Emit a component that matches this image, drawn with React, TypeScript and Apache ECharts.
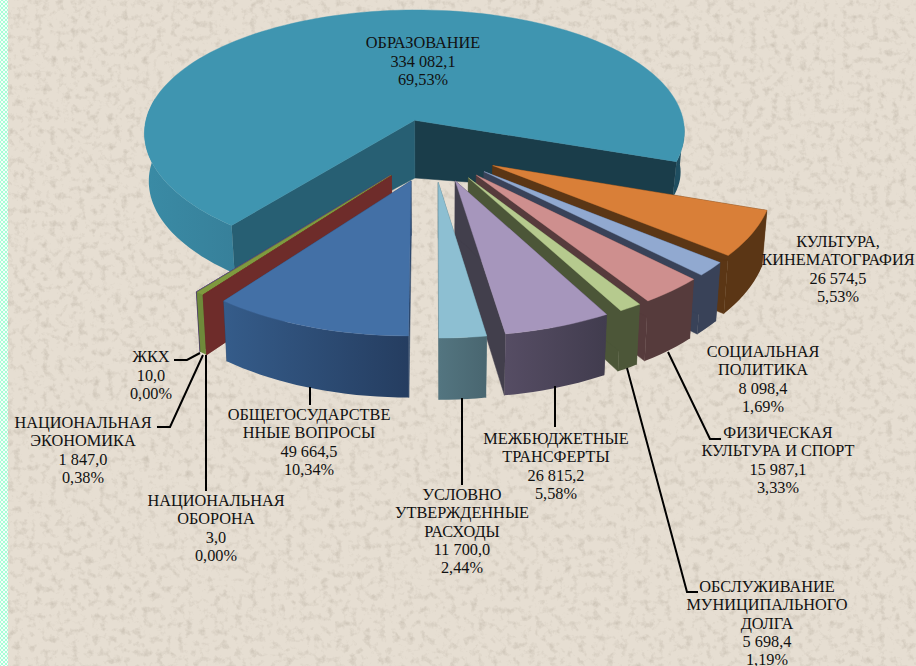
import React, { useEffect, useRef } from "react";
import * as echarts from "echarts";

// ---- data (clockwise from the 6 o'clock start angle) ----
const sliceNames = [
  "ОБЩЕГОСУДАРСТВЕ\nННЫЕ ВОПРОСЫ",
  "НАЦИОНАЛЬНАЯ\nОБОРОНА",
  "НАЦИОНАЛЬНАЯ\nЭКОНОМИКА",
  "ЖКХ",
  "ОБРАЗОВАНИЕ",
  "КУЛЬТУРА,\nКИНЕМАТОГРАФИЯ",
  "СОЦИАЛЬНАЯ\nПОЛИТИКА",
  "ФИЗИЧЕСКАЯ\nКУЛЬТУРА И СПОРТ",
  "ОБСЛУЖИВАНИЕ\nМУНИЦИПАЛЬНОГО\nДОЛГА",
  "МЕЖБЮДЖЕТНЫЕ\nТРАНСФЕРТЫ",
  "УСЛОВНО\nУТВЕРЖДЕННЫЕ\nРАСХОДЫ",
];
const sliceValues = [49664.5, 3.0, 1847.0, 10.0, 334082.1, 26574.5, 8098.4, 15987.1, 5698.4, 26815.2, 11700.0];

// ---- styles ----
const topColors = ["#4370A6", "#7A302C", "#7F9A3F", "#64508A", "#3F95B0", "#D97F38", "#91A9D0", "#CE8F8E", "#B6CA8E", "#A696BC", "#8DBFD2"];
const faceColors = ["#2A4569", "#6E2C2A", "#5F7530", "#4A3A68", "#275F73", "#5B3615", "#394258", "#563B3C", "#4C5638", "#423F4C", "#4F6E78"];
const wallStops = [
  ["#355C8A", "#253D60"],
  ["#6E2C2A", "#6E2C2A"],
  ["#6F8A3A", "#6F8A3A"],
  ["#4A3A68", "#4A3A68"],
  ["#3A8BA5", "#37809A"],
  ["#5B3615", "#5B3615"],
  ["#394258", "#394258"],
  ["#563B3C", "#563B3C"],
  ["#4C5638", "#4C5638"],
  ["#564D64", "#413C4E"],
  ["#537580", "#496670"],
];
const EDU = 4;
const EDU_RIGHT_FACE = "#1A3D4A";
const EDU_RIGHT_WALL = "#1F4E60";
const labelCenters = [
  [309, 442], [216, 528], [83, 450], [151, 375], [423, 61], [838, 269],
  [763, 379], [778, 460], [767, 623], [556, 466], [462, 531],
];
const leaders = [
  [[174, 360], [187, 360], [200, 353]],
  [[157, 427], [170, 427], [203, 355]],
  [[206, 355], [206, 491]],
  [[310, 387], [310, 405]],
  [[462, 398], [462, 485]],
  [[555, 386], [555, 427]],
  [[627, 368], [687, 592], [698, 592]],
  [[668, 352], [710, 439], [721, 439]],
];

// ---- projection of the tilted disc ----
const CX = 433, CY = 150, A = 275, B = 129.5, KX = 0.1, KY = 0.115, EXPLODE = 0.245;
const RAD = Math.PI / 180;
const total = sliceValues.reduce((s, v) => s + v, 0);
const project = (X: number, Y: number) => [
  CX + (A * X) / (1 - KX * Y),
  CY + (B * Y) / (1 - KY * Y),
];
const lower = (X: number, Y: number, idx: number) => {
  const p = project(X, Y);
  const shrunk = p[0] - 0.015 * (p[0] - CX);
  if (idx === EDU) return [shrunk, p[1] + (X < -0.3 ? 48 : 51 - 24 * Y - 15 * X)];
  return [shrunk, p[1] + 53 + 7 * Y];
};

const angleRanges: number[][] = [];
{
  let a = 180;
  for (const v of sliceValues) {
    const b = a + (v / total) * 360;
    angleRanges.push([a, b]);
    a = b;
  }
}
const drawRank = angleRanges
  .map((r, i) => ({ i, y: -Math.cos(((r[0] + r[1]) / 2) * RAD) }))
  .sort((p, q) => p.y - q.y)
  .reduce((acc: Record<number, number>, e, rank) => { acc[e.i] = rank; return acc; }, {});

const renderSlice = (params: any) => {
  const i = params.dataIndex;
  const [a0, a1] = angleRanges[i];
  const mid = ((a0 + a1) / 2) * RAD;
  const ox = EXPLODE * Math.sin(mid), oy = -EXPLODE * Math.cos(mid);
  const n = Math.max(2, Math.ceil((a1 - a0) / 2));
  const arc: number[][] = [];
  for (let k = 0; k <= n; k++) {
    const t = (a0 + ((a1 - a0) * k) / n) * RAD;
    arc.push([ox + Math.sin(t), oy - Math.cos(t)]);
  }
  const topPts = [project(ox, oy), ...arc.map((p) => project(p[0], p[1]))];
  const lowArc = arc.map((p) => lower(p[0], p[1], i));
  const topArc = arc.map((p) => project(p[0], p[1]));
  const z = drawRank[i] * 10;
  const radial = (p: number[], fill: string, dz: number) => ({
    type: "polygon",
    z2: z + dz,
    shape: { points: [project(ox, oy), project(p[0], p[1]), lower(p[0], p[1], i), lower(ox, oy, i)] },
    style: { fill, stroke: fill, lineWidth: 0.5 },
  });
  const children: any[] = [];
  children.push(radial(arc[arc.length - 1], i === EDU ? EDU_RIGHT_FACE : faceColors[i], 1));
  children.push(radial(arc[0], faceColors[i], 2));
  if (a1 - a0 > 0.1) {
    const pieces = i === EDU ? [[0, Math.floor(n * 0.25)], [Math.floor(n * 0.93), n]] : [[0, n]];
    pieces.forEach(([s, e], pi) => {
      const fill =
        i === EDU && pi === 1
          ? EDU_RIGHT_WALL
          : new echarts.graphic.LinearGradient(0, 0, 1, 0, [
              { offset: 0, color: wallStops[i][0] },
              { offset: 1, color: wallStops[i][1] },
            ]);
      children.push({
        type: "polygon",
        z2: z + 3,
        shape: { points: [...topArc.slice(s, e + 1), ...lowArc.slice(s, e + 1).reverse()] },
        style: { fill },
      });
    });
  }
  children.push({
    type: "polygon",
    z2: z + 6,
    shape: { points: topPts },
    style: { fill: topColors[i], stroke: topColors[i], lineWidth: 0.4 },
  });
  return { type: "group", children };
};

const fmtValue = (v: number) => {
  const [int, frac] = v.toFixed(1).split(".");
  return int.replace(/\B(?=(\d{3})+(?!\d))/g, " ") + "," + frac;
};
const fmtPct = (v: number) => ((v / total) * 100).toFixed(2).replace(".", ",") + "%";

const noise =
  "data:image/svg+xml," +
  encodeURIComponent(
    `<svg xmlns="http://www.w3.org/2000/svg" width="916" height="666"><filter id="n" x="0" y="0" width="100%" height="100%"><feTurbulence type="fractalNoise" baseFrequency="0.14" numOctaves="4" seed="23"/><feColorMatrix values="0 0 0 0 0.42  0 0 0 0 0.37  0 0 0 0 0.30  1.0 0 0 0 -0.50"/></filter><rect width="916" height="666" filter="url(#n)"/></svg>`
  );

export default function App() {
  const ref = useRef<HTMLDivElement>(null);
  useEffect(() => {
    const chart = echarts.init(ref.current!, undefined, { renderer: "svg" });
    chart.setOption({
      animation: false,
      series: [
        {
          type: "custom",
          coordinateSystem: "none",
          silent: true,
          renderItem: renderSlice,
          data: sliceValues.map((v, i) => ({ name: sliceNames[i], value: [v] })),
        },
      ],
      graphic: {
        z: 100,
        elements: [
          ...leaders.map((pts) => ({
            type: "polyline",
            z: 100,
            shape: { points: pts },
            style: { stroke: "#000", lineWidth: 2, fill: "none" },
          })),
          ...sliceNames.map((name, i) => ({
            type: "text",
            z: 101,
            x: labelCenters[i][0],
            y: labelCenters[i][1],
            style: {
              text: `${name}\n${fmtValue(sliceValues[i])}\n${fmtPct(sliceValues[i])}`,
              font: '16.3px "Liberation Serif"',
              lineHeight: 18.4,
              align: "center",
              verticalAlign: "middle",
              fill: "#111",
            },
          })),
        ],
      },
    });
    return () => chart.dispose();
  }, []);
  return (
    <div
      style={{
        position: "fixed", left: 0, top: 0, width: 916, height: 666, overflow: "hidden",
        backgroundColor: "#E6DED2", backgroundImage: `url("${noise}")`,
      }}
    >
      <div
        style={{
          position: "absolute", left: 0, top: 0, width: 8, height: 666,
          backgroundColor: "#A9FCD6",
          backgroundImage: "radial-gradient(circle, #F2FFF9 1px, transparent 1.4px), radial-gradient(circle, #F2FFF9 1px, transparent 1.4px)",
          backgroundSize: "4px 4px",
          backgroundPosition: "0 0, 2px 2px",
        }}
      />
      <div ref={ref} style={{ position: "absolute", left: 0, top: 0, width: 916, height: 666 }} />
    </div>
  );
}
